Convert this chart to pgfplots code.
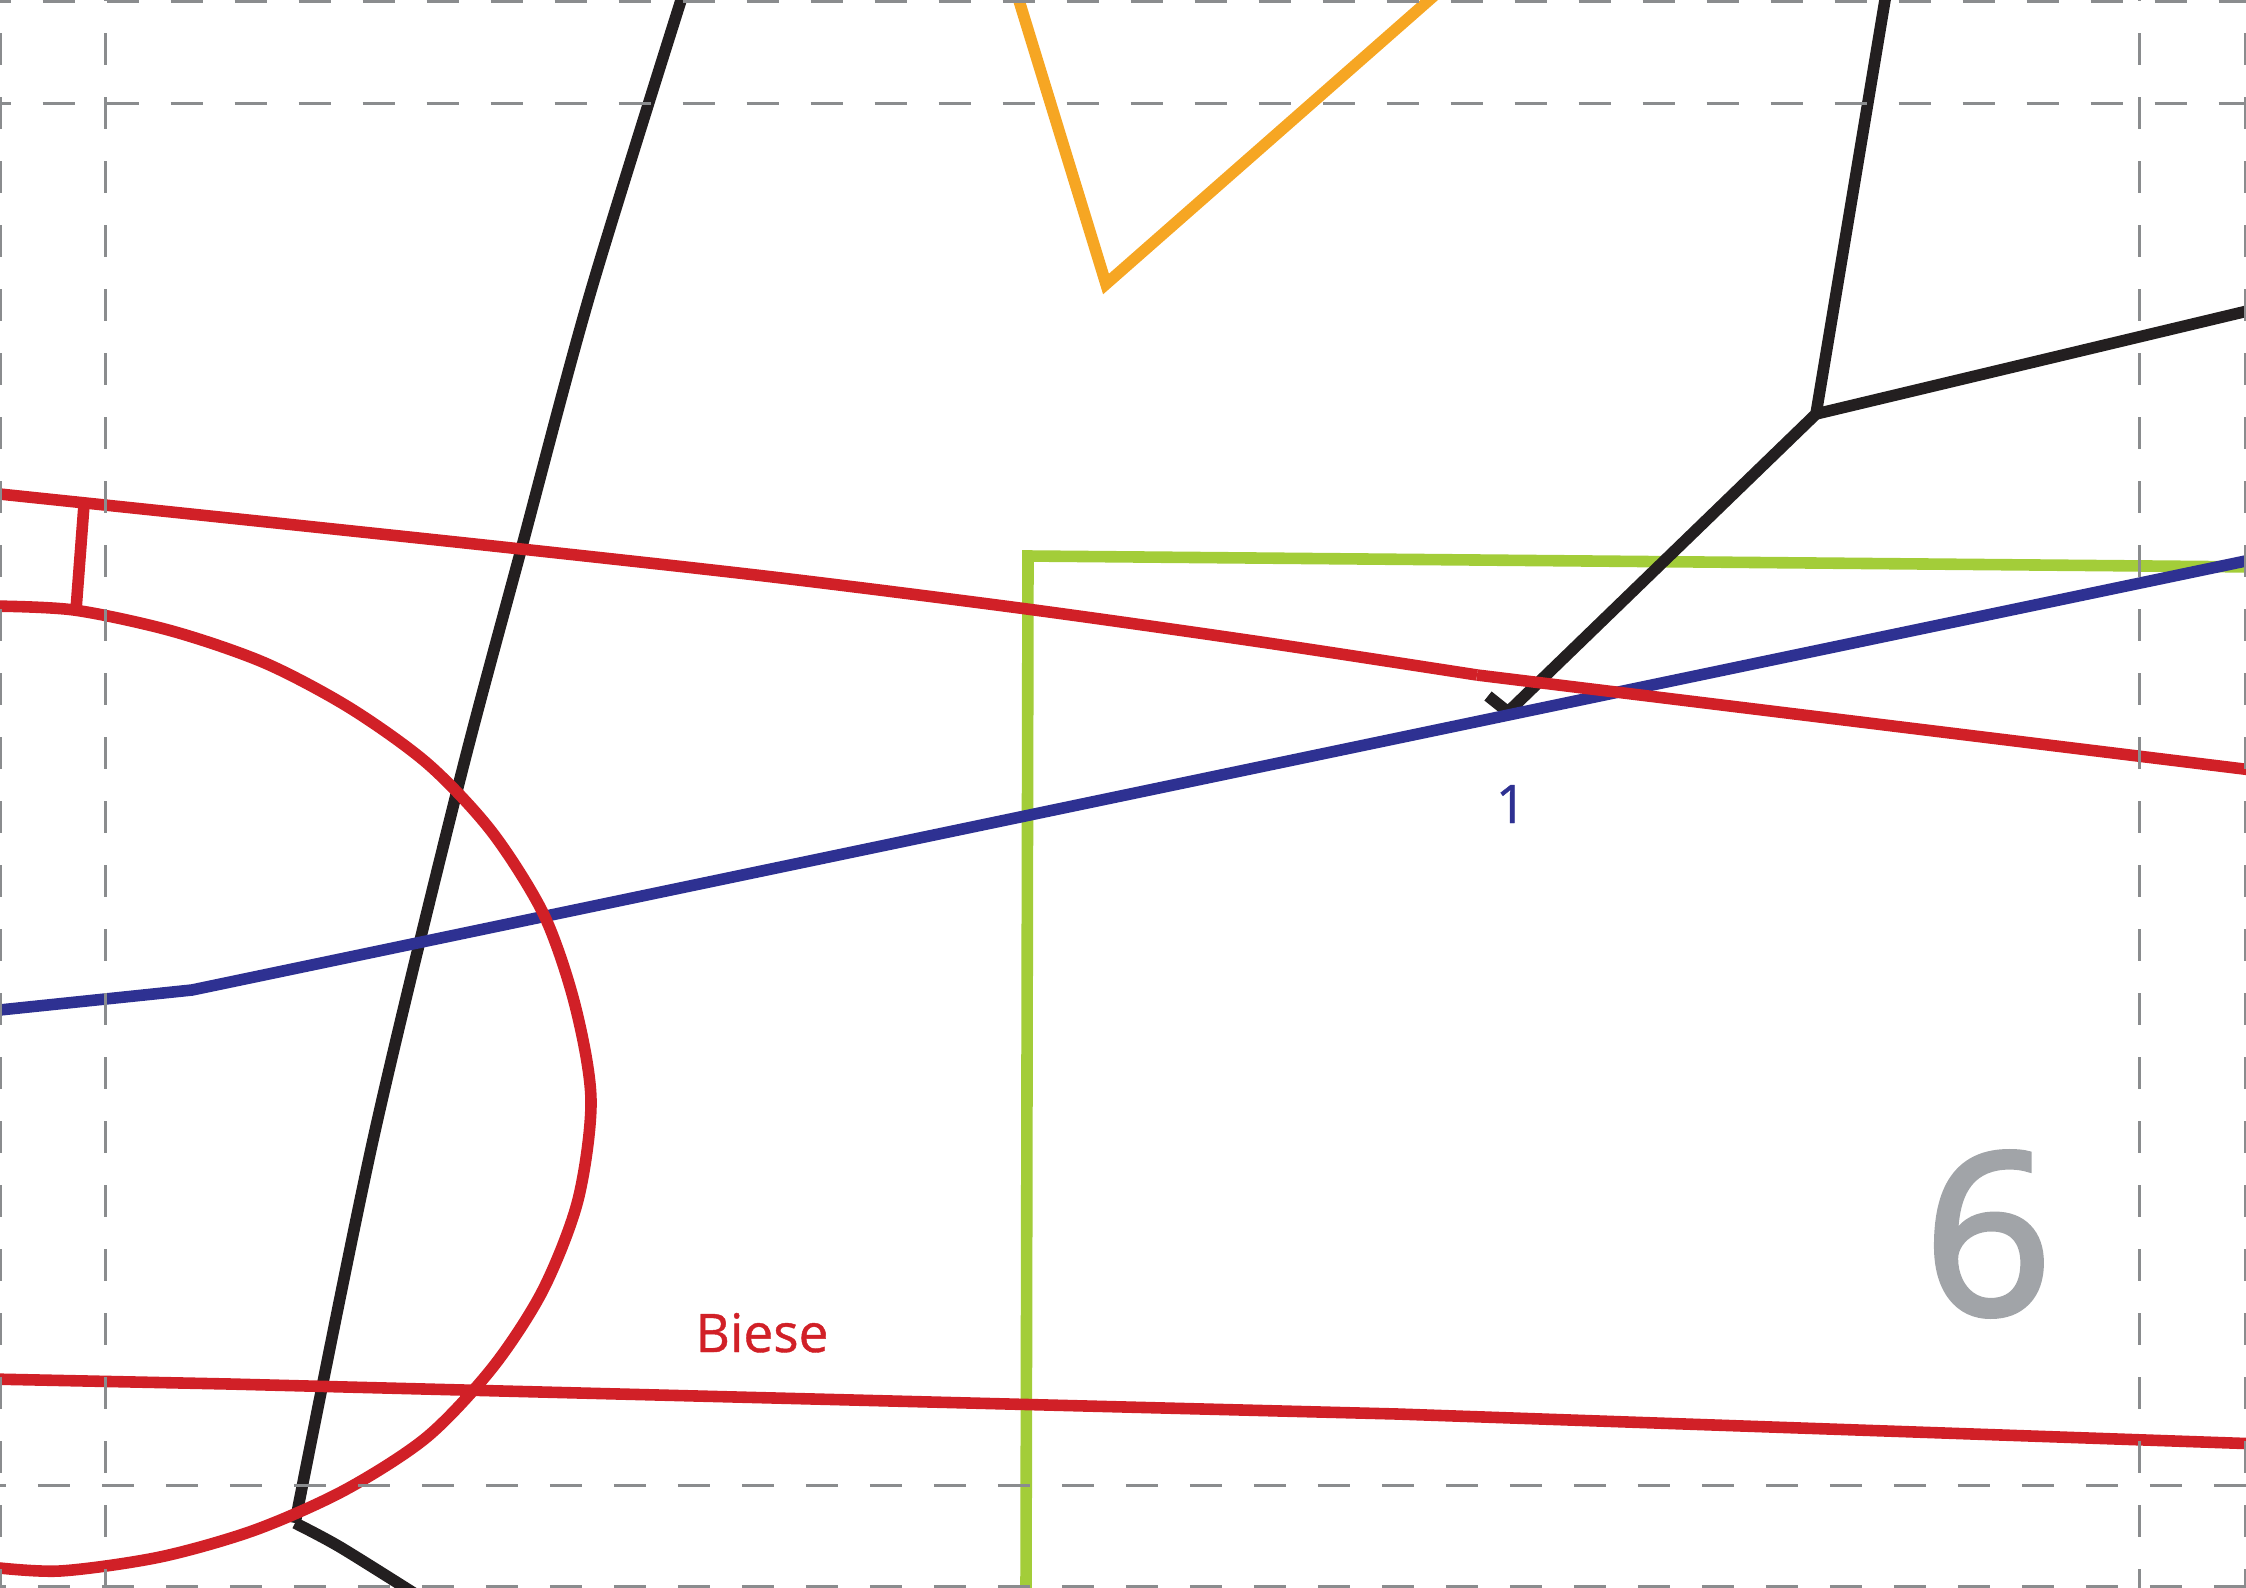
\documentclass[border=0pt]{standalone}
\usepackage{fontspec}
\setmainfont[FakeBold=0.8]{Open Sans}
\newfontfamily\numfont[FakeBold=2.5]{Open Sans}
\usepackage{pgfplots}
\pgfplotsset{compat=1.18}

\definecolor{patblack}{HTML}{231F20}
\definecolor{patred}{HTML}{D12027}
\definecolor{patblue}{HTML}{2E3192}
\definecolor{patgreen}{HTML}{A3CD39}
\definecolor{patorange}{HTML}{F6A623}
\definecolor{patgrey}{HTML}{8A8C8E}
\definecolor{patnum}{HTML}{A1A4A8}

\begin{document}
\begin{tikzpicture}
\begin{axis}[
  scale only axis,
  width=561.5pt, height=397pt,
  xmin=0, xmax=2246, ymin=0, ymax=1588,
  y dir=reverse,
  hide axis,
  clip=true,
  every axis plot/.append style={line cap=butt, line join=miter, miter limit=10, mark=none},
  pat/.style={line width=2.9pt},
  grid/.style={line width=0.75pt, color=patgrey, dash pattern=on 8pt off 8pt},
]
% green
\addplot[pat, patgreen] coordinates {(1026,1600) (1028,556) (2260,567)};
% orange
\addplot[pat, patorange] coordinates {(1017,-6) (1106,284) (1436,-6)};
% black
\addplot[pat, patblack, smooth] coordinates {
(683,-6) (590,294) (521,550) (458,787) (373,1140) (295,1523)};
\addplot[pat, patblack, smooth] coordinates {(295,1523) (340,1547) (420,1597)};
\addplot[pat, patblack] coordinates {(1886,-6) (1816,414) (2260,308)};
\addplot[pat, patblack] coordinates {(1816,414) (1508,712) (1488,696)};
% blue
\addplot[pat, patblue] coordinates {(-10,1011) (192,990) (2260,558)};
% red
\addplot[pat, patred, smooth] coordinates {
(-10,493) (286,524) (521,549) (773,577) (1027,609) (1261,642) (1477,675)};
\addplot[pat, patred] coordinates {(1477,675) (2260,771)};
\addplot[pat, patred] coordinates {(84,505) (76,610)};
\addplot[pat, patred, smooth] coordinates {
(-10,606) (74,610) (172,631) (265,663) (350,708) (428,764) (492,832) (544,915) (575,1005) (591,1100) (578,1200) (543,1290) (493,1367) (427,1437) (345,1490) (255,1530) (160,1557) (60,1571) (-10,1567)};
\addplot[pat, patred] coordinates {(-10,1379) (229,1384) (1397,1414) (2260,1444)};
% grid
\addplot[grid] coordinates {(-21.3,1.5) (2300,1.5)};
\addplot[grid] coordinates {(-21.3,103) (2300,103)};
\addplot[grid] coordinates {(-26,1485.7) (2300,1485.7)};
\addplot[grid] coordinates {(-26,1586.7) (2300,1586.7)};
\addplot[grid] coordinates {(0.5,-31) (0.5,1620)};
\addplot[grid] coordinates {(106,-31) (106,1620)};
\addplot[grid] coordinates {(2139.3,-31) (2139.3,1620)};
\addplot[grid] coordinates {(2245.5,-31) (2245.5,1620)};
% labels
\node[anchor=base, inner sep=0pt, text=patblue, font=\fontsize{13.3pt}{14pt}\selectfont] at (axis cs:1511,823) {1};
\node[anchor=base, inner sep=0pt, text=patred, font=\fontsize{13.3pt}{14pt}\selectfont] at (axis cs:762,1352) {Biese};
\node[anchor=base, inner sep=0pt, text=patnum, font=\fontsize{56pt}{60pt}\selectfont\numfont] at (axis cs:1988,1314) {6};
\end{axis}
\end{tikzpicture}
\end{document}
